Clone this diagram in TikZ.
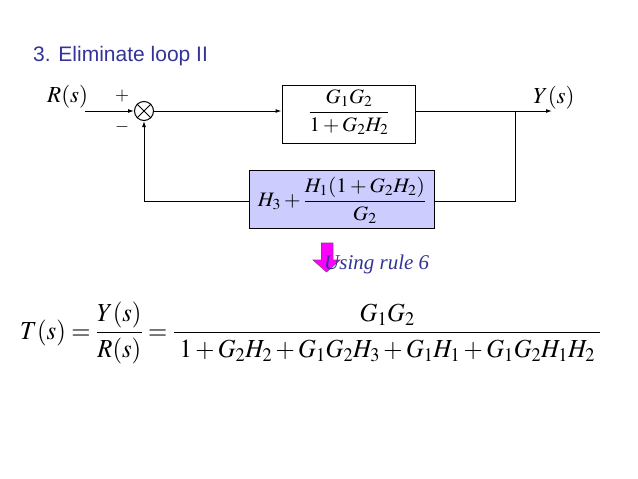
\documentclass[tikz,border=0pt]{standalone}
\usepackage{mathptmx}
\usepackage[no-math]{fontspec}
\newfontfamily\arialfont{Liberation Sans}
\newfontfamily\timesfont{Liberation Serif}
\usetikzlibrary{arrows.meta}
\definecolor{titleblue}{HTML}{333399}
\definecolor{boxfill}{HTML}{CCCCFF}
\definecolor{arrowmag}{HTML}{FF00FF}
\definecolor{arrowedge}{HTML}{993399}
\tikzset{
  blockbox/.style={draw, line width=1pt, inner sep=0pt},
  sig/.style={line width=1pt},
  sigarrow/.style={line width=1pt, -{Latex[length=6pt,width=4pt]}},
  lbl/.style={inner sep=0pt, font=\fontsize{23}{27}\selectfont},
  boxtext/.style={inner sep=0pt, font=\fontsize{20.5}{24}\selectfont},
}
\begin{document}
\begin{tikzpicture}[x=1pt,y=-1pt]
\useasboundingbox (0,0) rectangle (638,479);
% title
\node[anchor=base west, inner sep=0pt, text=titleblue, font=\arialfont\fontsize{21}{25}\selectfont] (title) at (33,61) {3. Eliminate loop II};
% labels
\node[lbl, anchor=base west] (rlab) at (47,102.5) {$R(s)$};
\node[lbl, anchor=base west] (ylab) at (533,103) {$Y(s)$};
\node[inner sep=0pt, font=\fontsize{18}{20}\selectfont] (plus) at (122,96) {$+$};
\node[inner sep=0pt, font=\fontsize{18}{20}\selectfont] (minus) at (122,127) {$-$};
% summing junction
\node[draw, circle, line width=1pt, minimum size=19pt, inner sep=0pt] (sum) at (144,111) {};
\draw[line width=1pt] (sum.north west) -- (sum.south east) (sum.north east) -- (sum.south west);
% blocks
\node[blockbox, minimum width=133pt, minimum height=58pt] (b1) at (348.5,114) {};
\node[boxtext] (b1t) at (349,112) {\scalebox{1.02}[1]{$\displaystyle\frac{G_1G_2}{1+G_2H_2}$}};
\node[blockbox, fill=boxfill, minimum width=185pt, minimum height=58pt] (b2) at (342,199.3) {};
\node[boxtext] (b2t) at (342,200) {\scalebox{1.04}[1]{$\displaystyle H_3+\frac{H_1(1+G_2H_2)}{G_2}$}};
% connectors
\coordinate (rin) at (85,111);
\coordinate (yout) at (552,111);
\coordinate (tap) at (515,111);
\draw[sigarrow] (rin) -- (sum.west);
\draw[sigarrow] (sum.east) -- (sum.east -| b1.west);
\draw[sigarrow] (sum.east -| b1.east) -- (yout);
\draw[sig] (tap) |- (b2.east |- 0,201);
\draw[sigarrow] (b2.west |- 0,201) -| (sum.south);
% magenta arrow
\fill[arrowmag, draw=arrowedge, line width=0.6pt] (321.5,243) -- (333,243) -- (333,260) -- (340,260) -- (326.5,272) -- (313,260) -- (321.5,260) -- cycle;
\node[anchor=base west, inner sep=0pt, text=titleblue, font=\timesfont\itshape\fontsize{21}{25}\selectfont] (rule) at (324,269) {Using rule 6};
% equation
\node[inner sep=0pt, font=\fontsize{26}{30}\selectfont, anchor=west] (eq) at (20,333) {\scalebox{0.95}[1]{$\displaystyle T(s)=\frac{Y(s)}{R(s)}=\frac{G_1G_2}{\;1+G_2H_2+G_1G_2H_3+G_1H_1+G_1G_2H_1H_2\;}$}};
\end{tikzpicture}
\end{document}
